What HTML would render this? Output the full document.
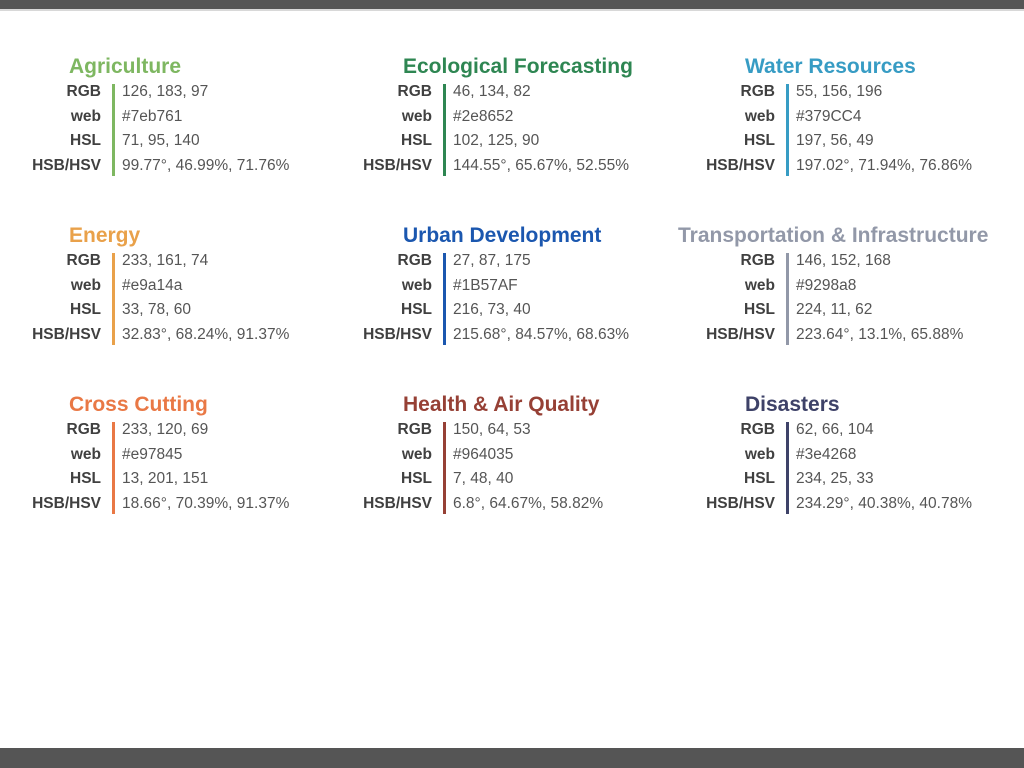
<!DOCTYPE html>
<html><head><meta charset="utf-8"><style>
body{margin:0;width:1024px;height:768px;background:#fff;position:relative;overflow:hidden;font-family:"Liberation Sans",sans-serif}
.topbar{position:absolute;left:0;top:0;width:1024px;height:9px;background:#555;border-bottom:2px solid #d8d8d8}
.botbar{position:absolute;left:0;top:748px;width:1024px;height:20px;background:#555}
.title{position:absolute;font-weight:bold;font-size:21px;white-space:nowrap;line-height:24px}
.lab{position:absolute;font-weight:bold;font-size:15.5px;color:#404040;text-align:right;width:100px;line-height:20px;white-space:nowrap}
.val{position:absolute;font-size:15.5px;color:#555;white-space:nowrap;line-height:20px}
.bar{position:absolute;width:3px}
</style></head><body>
<div class="topbar"></div>
<div class="botbar"></div>
<script>
const names=["Agriculture","Ecological Forecasting","Water Resources","Energy","Urban Development","Transportation & Infrastructure","Cross Cutting","Health & Air Quality","Disasters"];
const colors=["#7eb761","#2e8652","#379CC4","#e9a14a","#1B57AF","#9298a8","#e97845","#964035","#3e4268"];
const rgbVals=["126, 183, 97","46, 134, 82","55, 156, 196","233, 161, 74","27, 87, 175","146, 152, 168","233, 120, 69","150, 64, 53","62, 66, 104"];
const webVals=["#7eb761","#2e8652","#379CC4","#e9a14a","#1B57AF","#9298a8","#e97845","#964035","#3e4268"];
const hslVals=["71, 95, 140","102, 125, 90","197, 56, 49","33, 78, 60","216, 73, 40","224, 11, 62","13, 201, 151","7, 48, 40","234, 25, 33"];
const hsvVals=["99.77°, 46.99%, 71.76%","144.55°, 65.67%, 52.55%","197.02°, 71.94%, 76.86%","32.83°, 68.24%, 91.37%","215.68°, 84.57%, 68.63%","223.64°, 13.1%, 65.88%","18.66°, 70.39%, 91.37%","6.8°, 64.67%, 58.82%","234.29°, 40.38%, 40.78%"];
const labels=["RGB","web","HSL","HSB/HSV"];
const colX=[112,443,786];
const titleX=[69,403,745];
const rowY=[0,169,338];
for(let i=0;i<9;i++){
  const c=i%3,r=Math.floor(i/3);
  const bx=colX[c],by=rowY[r];
  const t=document.createElement('div');
  t.className='title';
  
  
  t.textContent=names[i];
  t.style.color=colors[i];
  t.style.left=(i==5?678:titleX[c])+'px';
  t.style.top=(by+55)+'px';
  document.body.appendChild(t);
  const b=document.createElement('div');
  b.className='bar';
  
  
  b.style.background=colors[i];
  b.style.left=bx+'px';
  b.style.top=(by+84)+'px';
  b.style.height='92px';
  document.body.appendChild(b);
  const vals=[rgbVals[i],webVals[i],hslVals[i],hsvVals[i]];
  for(let k=0;k<4;k++){
    const y=by+82+k*24.7;
    const l=document.createElement('div');
    l.className='lab';
    
    
    l.textContent=labels[k];
    l.style.left=(bx-111)+'px';
    l.style.top=y+'px';
    document.body.appendChild(l);
    const v=document.createElement('div');
    v.className='val';
    
    
    v.textContent=vals[k];
    v.style.left=(bx+10)+'px';
    v.style.top=y+'px';
    document.body.appendChild(v);
  }
}
</script>
</body></html>
